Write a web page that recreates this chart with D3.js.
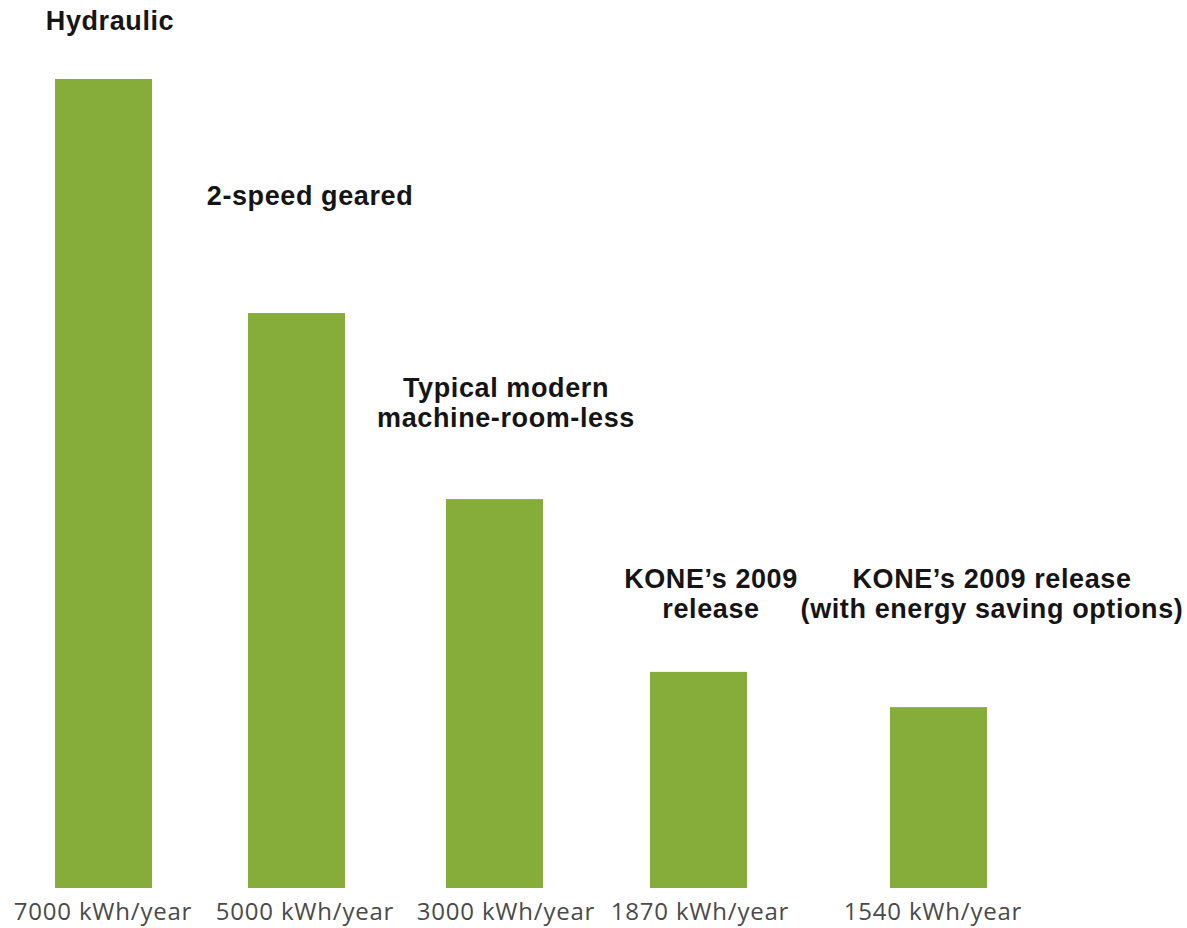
<!DOCTYPE html>
<html>
<head>
<meta charset="utf-8">
<script src="https://cdn.jsdelivr.net/npm/d3@7/dist/d3.min.js"></script>
<style>
  html, body { margin: 0; padding: 0; background: #fff; }
  svg { display: block; }
</style>
</head>
<body>
<svg id="chart" width="1187" height="928"></svg>
<script>
// ---- data ----
const categories = ["Hydraulic", "2-speed geared", "Typical modern machine-room-less", "KONE's 2009 release", "KONE's 2009 release (with energy saving options)"];
const categoryLines = [
  ["Hydraulic"],
  ["2-speed geared"],
  ["Typical modern", "machine-room-less"],
  ["KONE\u2019s 2009", "release"],
  ["KONE\u2019s 2009 release", "(with energy saving options)"]
];
const energyKWh = [7000, 5000, 3000, 1870, 1540];          // stated values (labels)
const barHeightsAsDrawn = [7000, 4975, 3365, 1870, 1565];  // bar heights
const unitLabel = "kWh/year";

// ---- layout ----
const baseline = 888, topY = 79;
const barWidth = 97;
const barCenters = [103.5, 296.5, 494.5, 698.5, 938.5];
const valueLabelCenters = [103, 305, 506, 700, 933];
const catLabelCenters = [110, 310, 506, 711, 992];
const catLabelBaselines = [30, 205, 397, 588, 588];
const lineH = 30;

const svg = d3.select("#chart");

const x = d3.scaleOrdinal().domain(categories).range(barCenters);
const xValLab = d3.scaleOrdinal().domain(categories).range(valueLabelCenters);
const xCatLab = d3.scaleOrdinal().domain(categories).range(catLabelCenters);
const yCatLab = d3.scaleOrdinal().domain(categories).range(catLabelBaselines);
const y = d3.scaleLinear().domain([0, 7000]).range([baseline, topY]);

const data = categories.map((c, i) => ({
  cat: c, lines: categoryLines[i], value: energyKWh[i], drawn: barHeightsAsDrawn[i]
}));

// bars
svg.append("g").selectAll("rect").data(data).join("rect")
  .attr("x", d => x(d.cat) - barWidth / 2)
  .attr("y", d => y(d.drawn))
  .attr("width", barWidth)
  .attr("height", d => y(0) - y(d.drawn))
  .attr("fill", "#86ad3a");

// category labels above bars
const catText = svg.append("g").selectAll("text").data(data).join("text")
  .attr("text-anchor", "middle")
  .attr("font-family", "'Liberation Sans', Arial, sans-serif")
  .attr("font-weight", "bold")
  .attr("font-size", 27)
  .attr("letter-spacing", 0.6)
  .attr("fill", "#151515")
  .attr("transform", d => `translate(${xCatLab(d.cat)},${yCatLab(d.cat)})`);
catText.selectAll("tspan").data(d => d.lines).join("tspan")
  .attr("x", 0)
  .attr("dy", (l, i) => i === 0 ? 0 : lineH)
  .text(l => l);

// value labels below bars
svg.append("g").selectAll("text").data(data).join("text")
  .attr("x", d => xValLab(d.cat))
  .attr("y", 920)
  .attr("text-anchor", "middle")
  .attr("font-family", "'Open Sans', sans-serif")
  .attr("font-size", 24)
  .attr("letter-spacing", 0.8)
  .attr("fill", "#4a4a4a")
  .text(d => `${d.value} ${unitLabel}`);
</script>
</body>
</html>
